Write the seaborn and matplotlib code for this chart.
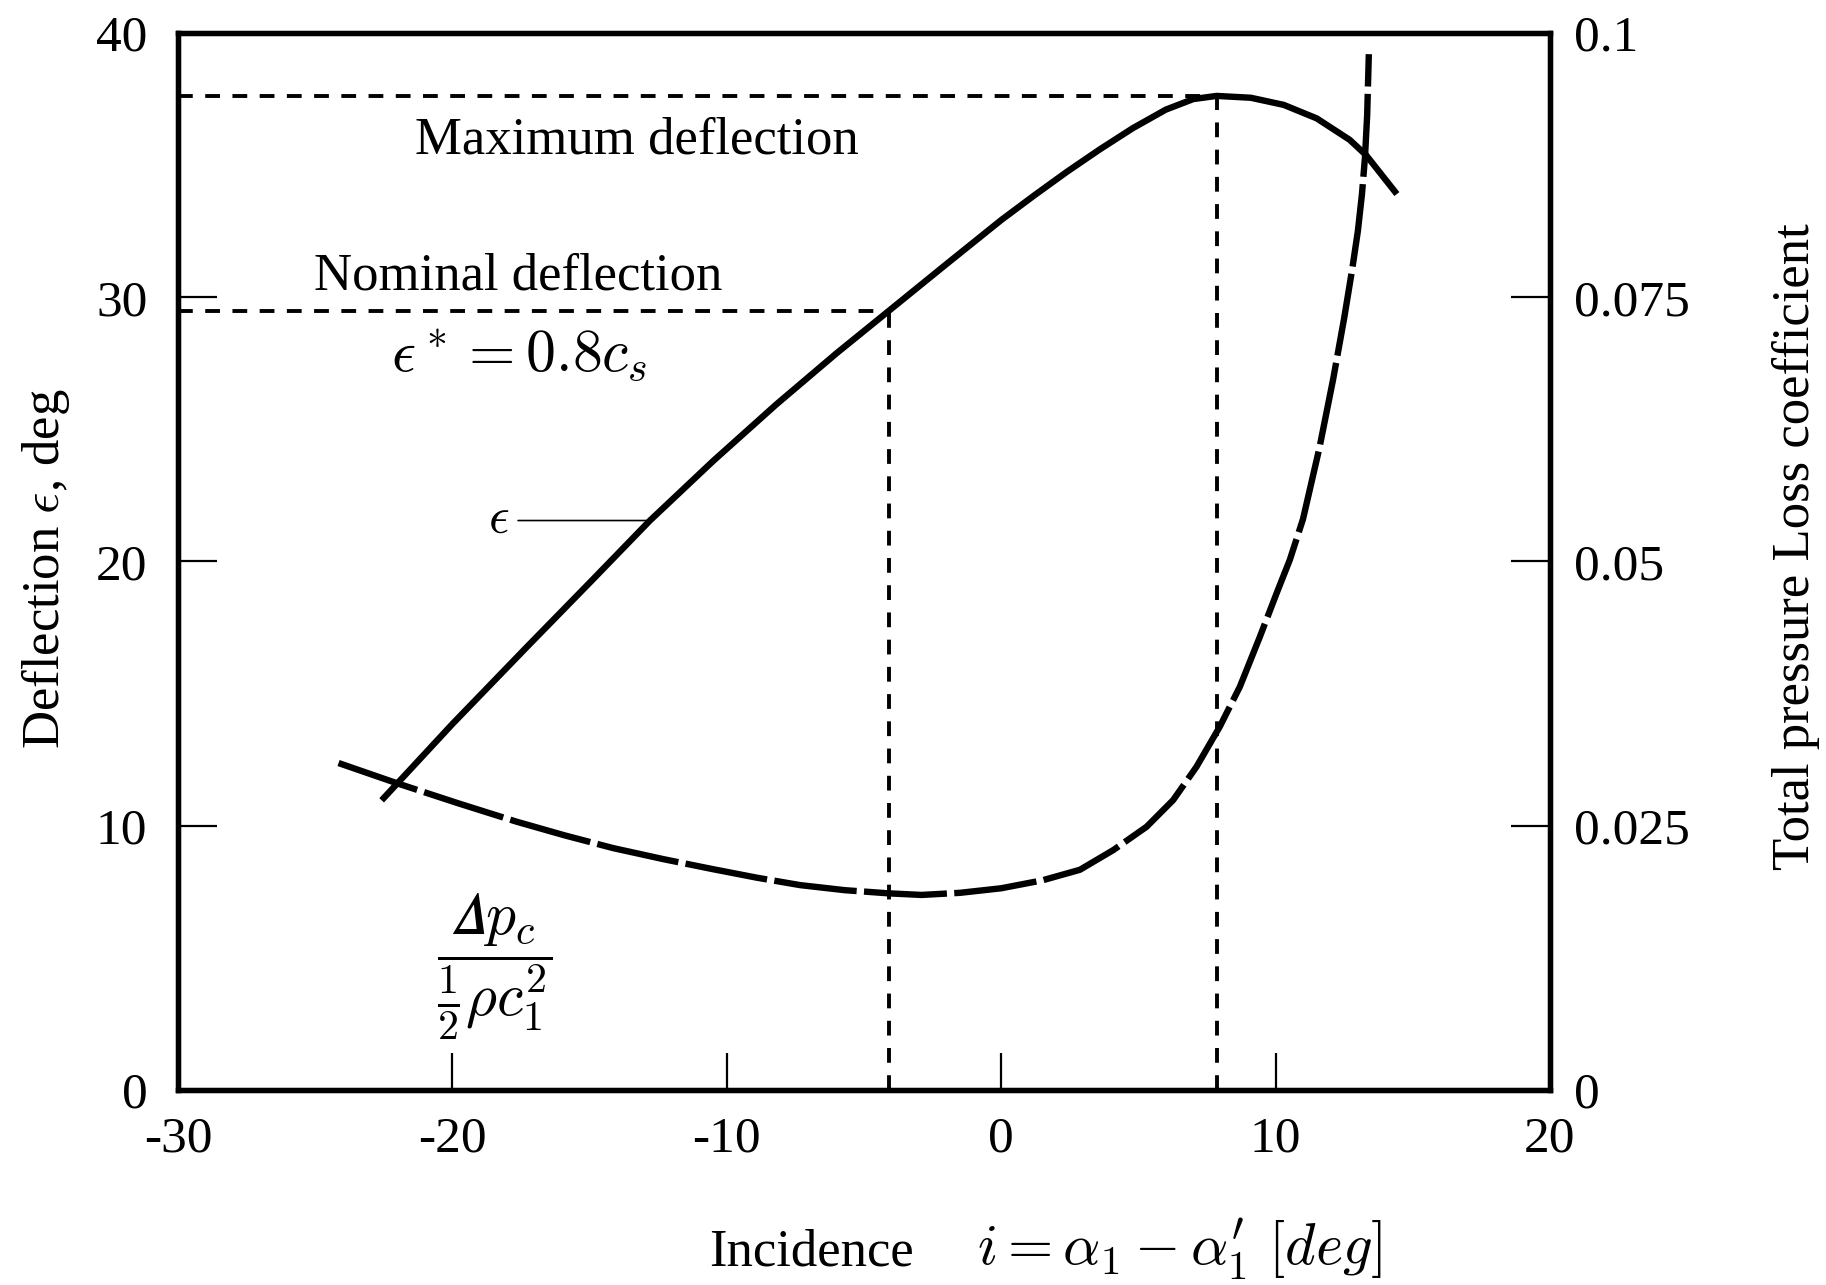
import matplotlib
matplotlib.use("Agg")
import matplotlib.pyplot as plt
import seaborn as sns
import pandas as pd

# ---------------- data ----------------
incidence_defl = [-22.5, -20.0, -17.3, -14.9, -12.8, -10.5, -8.2, -6.0, -4.1,
                  -2.0, 0.0, 1.2, 2.4, 3.6, 4.8, 6.0, 7.0, 7.85, 9.1, 10.3,
                  11.5, 12.7, 13.3, 14.35]
deflection = [11.05, 13.85, 16.75, 19.3, 21.55, 23.8, 25.94, 27.88, 29.48,
              31.25, 32.92, 33.85, 34.75, 35.6, 36.4, 37.1, 37.5, 37.62, 37.55,
              37.28, 36.77, 35.96, 35.38, 34.0]

incidence_loss = [-24.15, -22.0, -19.8, -17.66, -15.9, -14.14, -12.3, -10.49,
                  -8.9, -7.33, -5.7, -4.1, -2.9, -1.5, 0.0, 1.5, 2.87, 4.09,
                  5.3, 6.27, 7.12, 7.97, 8.7, 9.43, 10.04, 10.52, 11.0, 11.6,
                  12.1, 12.5, 12.8, 13.0, 13.15, 13.26, 13.34, 13.4]
loss_coeff = [0.03093, 0.0290, 0.02713, 0.02538, 0.02408, 0.02288, 0.02183,
              0.02088, 0.02008, 0.01938, 0.0189, 0.0186, 0.01845, 0.01865,
              0.01908, 0.01983, 0.02083, 0.0227, 0.0249, 0.02743, 0.03058,
              0.03438, 0.03815, 0.04288, 0.0470, 0.05015, 0.0540, 0.06075,
              0.06725, 0.0730, 0.07775, 0.08125, 0.08475, 0.08825, 0.09225,
              0.0980]

nominal_incidence, nominal_deflection = -4.1, 29.48
max_incidence, max_deflection = 7.85, 37.62

x_ticks = [-30, -20, -10, 0, 10, 20]
x_tick_labels = ["-30", "-20", "-10", "0", "10", "20"]
y_ticks = [0, 10, 20, 30, 40]
y_tick_labels = ["0", "10", "20", "30", "40"]
y2_ticks = [0, 0.025, 0.05, 0.075, 0.1]
y2_tick_labels = ["0", "0.025", "0.05", "0.075", "0.1"]

# ---------------- style ----------------
plt.rcParams["font.family"] = ["Liberation Serif", "DejaVu Serif"]
plt.rcParams["mathtext.fontset"] = "cm"
plt.rcParams["axes.unicode_minus"] = False

FS = 37
LW = 4.6
fig = plt.figure(figsize=(18.26, 12.85), dpi=100)
ax = fig.add_axes([0.0975, 0.1518, 0.7513, 0.8225])
ax2 = ax.twinx()

df_defl = pd.DataFrame({"incidence": incidence_defl, "deflection": deflection})
df_loss = pd.DataFrame({"incidence": incidence_loss, "loss": loss_coeff})

sns.lineplot(data=df_defl, x="incidence", y="deflection", ax=ax, color="black",
             lw=LW, sort=False, estimator=None, zorder=3)
sns.lineplot(data=df_loss, x="incidence", y="loss", ax=ax2, color="black",
             lw=LW, sort=False, estimator=None, linestyle=(0, (13, 1.15)),
             zorder=3)

# reference lines
ref_kw = dict(color="black", lw=2.8, linestyle=(0, (3.8, 3.2)), zorder=2)
ax.hlines(max_deflection, x_ticks[0], max_incidence, **ref_kw)
ax.vlines(max_incidence, y_ticks[0], max_deflection, **ref_kw)
ax.hlines(nominal_deflection, x_ticks[0], nominal_incidence, **ref_kw)
ax.vlines(nominal_incidence, y_ticks[0], nominal_deflection, **ref_kw)

ax.set_xlim(x_ticks[0], x_ticks[-1])
ax.set_ylim(y_ticks[0], y_ticks[-1])
ax2.set_ylim(y2_ticks[0], y2_ticks[-1])

ax.set_xticks(x_ticks)
ax.set_xticklabels(x_tick_labels)
ax.set_yticks(y_ticks)
ax.set_yticklabels(y_tick_labels)
ax2.set_yticks(y2_ticks)
ax2.set_yticklabels(y2_tick_labels)

ax.tick_params(axis="x", direction="in", length=26.5, width=1.6, pad=19,
               labelsize=FS, top=False)
ax.tick_params(axis="y", direction="in", length=28, width=1.6, pad=22,
               labelsize=FS, right=False)
ax2.tick_params(axis="y", direction="in", length=28, width=1.6, pad=17.5,
                labelsize=FS)

for a in (ax, ax2):
    for s in a.spines.values():
        s.set_linewidth(3.8)
        s.set_color("black")

# labels
ax.set_xlabel("Incidence", fontsize=FS + 1, va="baseline")
ax.xaxis.set_label_coords(0.462, -0.166)
ax.text(0.7296, -0.166, r"$i = \alpha_1 - \alpha_1^{\prime}\ [deg]$",
        transform=ax.transAxes, fontsize=FS + 5, ha="center", va="baseline")
ax.set_ylabel(r"Deflection $\epsilon$, deg", fontsize=FS + 1)
ax.yaxis.set_label_coords(-0.077, 0.493)
ax2.set_ylabel("Total pressure Loss coefficient", fontsize=FS + 1)
ax2.yaxis.set_label_coords(1.162, 0.514)

# annotations
ax.text(-13.27, 35.95, "Maximum deflection", fontsize=FS + 1,
        ha="center", va="center")
ax.text(-17.6, 30.8, "Nominal deflection", fontsize=FS + 1,
        ha="center", va="center")
ax.text(-17.56, 27.8, r"$\epsilon^* = 0.8c_s$", fontsize=FS + 6,
        ha="center", va="center")
ax.annotate(r"$\epsilon$", xy=(incidence_defl[4], deflection[4]),
            xytext=(-18.3, deflection[4]), fontsize=FS, ha="center",
            va="center",
            arrowprops=dict(arrowstyle="-", lw=1.2, color="black",
                            shrinkA=4, shrinkB=0))
ax.text(-18.45, 4.67, "$\\dfrac{\U0001D6E5 p_c}{\\frac{1}{2}\\rho c_1^2}$",
        fontsize=FS + 6, ha="center", va="center")

fig.savefig("out.png", dpi=100)
